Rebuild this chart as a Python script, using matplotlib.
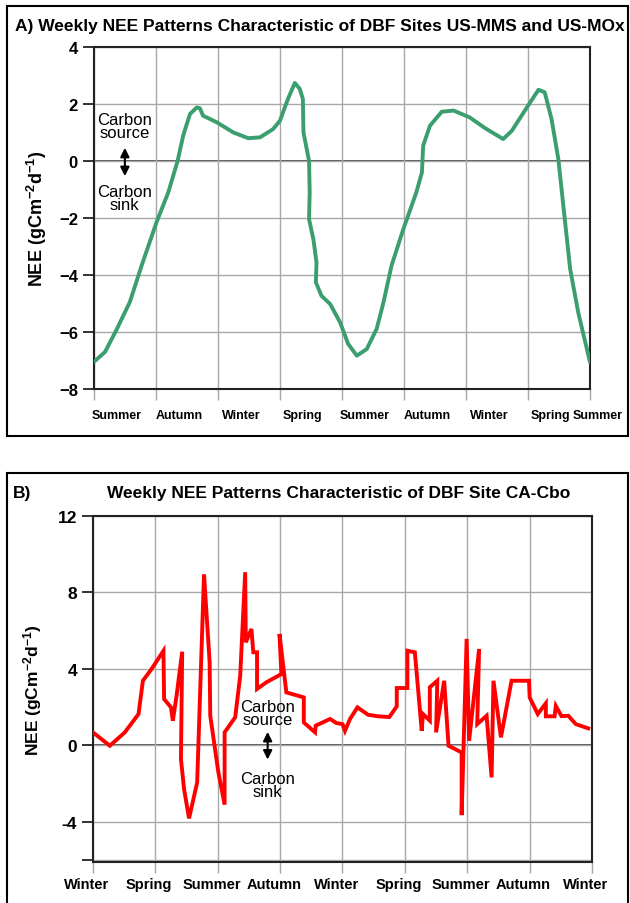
import numpy as np
import matplotlib.pyplot as plt
from matplotlib.patches import Rectangle

# panel A: US-MMS / US-MOx (x in seasons from first summer)
a_x = [0, 0.18, 0.37, 0.58, 0.77, 1.01, 1.2, 1.35, 1.44, 1.55, 1.66, 1.71, 1.76, 1.98,
       2.25, 2.49, 2.68, 2.89, 3.0, 3.13, 3.24, 3.32, 3.37, 3.38, 3.47, 3.48, 3.47, 3.54,
       3.59, 3.58, 3.67, 3.81, 3.97, 4.1, 4.24, 4.4, 4.56, 4.67, 4.8, 4.99, 5.2, 5.29,
       5.31, 5.42, 5.61, 5.8, 6.06, 6.31, 6.6, 6.74, 7.0, 7.17, 7.27, 7.38, 7.49, 7.57,
       7.68, 7.81, 8.0]
a_y = [-7.05, -6.7, -5.9, -4.95, -3.67, -2.15, -1.1, 0.0, 0.89, 1.65, 1.88, 1.85, 1.59, 1.36,
       1.0, 0.8, 0.83, 1.12, 1.41, 2.18, 2.74, 2.53, 2.18, 1.0, 0.0, -1.1, -2.04, -2.75,
       -3.56, -4.26, -4.73, -5.02, -5.66, -6.42, -6.83, -6.6, -5.89, -4.96, -3.67, -2.39, -1.1, -0.4,
       0.54, 1.24, 1.73, 1.77, 1.53, 1.15, 0.77, 1.06, 1.94, 2.5, 2.41, 1.47, 0.06, -1.57,
       -3.79, -5.31, -7.06]
a_seasons = ['Summer', 'Autumn', 'Winter', 'Spring', 'Summer', 'Autumn', 'Winter', 'Spring', 'Summer']

# panel B: CA-Cbo (x in seasons from first winter)
b_x = [0, 0.27, 0.51, 0.73, 0.8, 0.94, 1.13, 1.14, 1.25, 1.28, 1.34, 1.43, 1.41, 1.46, 1.54,
       1.67, 1.78, 1.87, 1.88, 2.01, 2.11, 2.11, 2.28, 2.36, 2.44, 2.45, 2.54, 2.57, 2.63,
       2.63, 2.78, 3.02, 2.99, 3.1, 3.38, 3.38, 3.56, 3.57, 3.8, 3.9, 4.0, 4.04, 4.12, 4.24,
       4.41, 4.57, 4.75, 4.87, 4.87, 5.04, 5.04, 5.16, 5.27, 5.29, 5.4, 5.4, 5.52, 5.5,
       5.63, 5.7, 5.91, 5.91, 5.99, 6.03, 6.19, 6.16, 6.31, 6.39, 6.42, 6.54, 6.71, 6.99,
       7.0, 7.13, 7.26, 7.26, 7.4, 7.42, 7.51, 7.62, 7.74, 7.94]
b_y = [0.68, -0.02, 0.68, 1.64, 3.38, 4.0, 4.95, 2.42, 1.99, 1.29, 2.6, 4.9, -0.72, -2.29, -3.82,
       -1.94, 8.95, 4.35, 1.55, -1.41, -3.1, 0.68, 1.47, 3.64, 9.06, 5.39, 6.09, 4.87, 4.87,
       2.95, 3.3, 3.73, 5.83, 2.77, 2.51, 1.2, 0.68, 1.03, 1.38, 1.17, 1.11, 0.76, 1.38, 1.99,
       1.6, 1.52, 1.48, 2.04, 3.0, 3.0, 4.95, 4.87, 0.76, 1.64, 1.29, 3.04, 3.38, 0.68,
       3.38, -0.02, -0.37, -3.65, 5.57, 0.24, 5.04, 1.11, 1.55, -1.68, 3.38, 0.42, 3.38, 3.38,
       2.51, 1.64, 2.2, 1.52, 1.52, 2.06, 1.53, 1.55, 1.11, 0.89]
b_seasons = ['Winter', 'Spring', 'Summer', 'Autumn', 'Winter', 'Spring', 'Summer', 'Autumn', 'Winter']

FAM = ['Liberation Sans', 'DejaVu Sans']
ylab = 'NEE (gCm$^{\\mathbf{-2}}$d$^{\\mathbf{-1}}$)'

plt.rcParams['mathtext.fontset'] = 'custom'
plt.rcParams['mathtext.bf'] = 'Liberation Sans:bold'
plt.rcParams['mathtext.rm'] = 'Liberation Sans'
plt.rcParams['mathtext.default'] = 'bf'
fig = plt.figure(figsize=(6.3, 9.04), dpi=100)

# panel frames
for y0, h in [(0.5166, 0.4757), (-0.01, 0.4857)]:
    fig.add_artist(Rectangle((0.0111, y0), 0.9857, h, transform=fig.transFigure,
                             fill=False, lw=1.5, ec='black'))


def style_axes(ax, size):
    for s in ax.spines.values():
        s.set_color('#222222')
        s.set_linewidth(1.5)
    ax.grid(True, color='#a8a8a8', lw=1)
    ax.axhline(0, color='#333333', lw=1.2, zorder=1)
    ax.tick_params(axis='x', length=8, color='#a8a8a8', width=1, labelbottom=False)
    ax.tick_params(axis='y', length=8, color='#222222', width=1.3, labelsize=size)
    for t in ax.get_yticklabels():
        t.set_fontfamily(FAM)
        t.set_fontweight('bold')


# ---- panel A ----
axA = fig.add_axes([0.149, 0.5686, 0.7875, 0.3783])
axA.plot(a_x, a_y, color='#3a9e6e', lw=2.8, solid_joinstyle='round', solid_capstyle='round', zorder=3)
axA.set_xlim(0, 8)
axA.set_ylim(-8, 4)
axA.set_xticks(range(9))
axA.set_yticks([-8, -6, -4, -2, 0, 2, 4])
style_axes(axA, 12)
for i, s in enumerate(a_seasons):
    axA.text(i + 0.37 if i < 8 else 8.13, -0.075, s, transform=axA.get_xaxis_transform(),
             ha='center', va='center', fontsize=9, fontweight='bold', family=FAM)
axA.set_ylabel(ylab, fontsize=13, fontweight='bold', family=FAM, labelpad=7)
axA.text(0.5, 1.23, 'Carbon\nsource', ha='center', va='center', fontsize=12, linespacing=0.85, family=FAM)
axA.text(0.5, -1.3, 'Carbon\nsink', ha='center', va='center', fontsize=12, linespacing=0.85, family=FAM)
axA.annotate('', xy=(0.5, -0.63), xytext=(0.5, 0.56),
             arrowprops=dict(arrowstyle='<|-|>', color='black', lw=1.5, mutation_scale=13))
fig.text(0.024, 0.9705, 'A) Weekly NEE Patterns Characteristic of DBF Sites US-MMS and US-MOx',
         ha='left', va='center', fontsize=12.5, fontweight='bold', family=FAM)

# ---- panel B ----
axB = fig.add_axes([0.1476, 0.0454, 0.7921, 0.3827])
axB.plot(b_x, b_y, color='#ff0000', lw=2.8, solid_joinstyle='miter', zorder=3)
axB.set_xlim(0, 8)
axB.set_ylim(-6.1, 12)
axB.set_xticks(range(9))
axB.set_yticks([-6, -4, 0, 4, 8, 12])
axB.set_yticklabels(['', '-4', '0', '4', '8', '12'])
style_axes(axB, 12.5)
for i, s in enumerate(b_seasons):
    axB.text(i - 0.1, -0.063, s, transform=axB.get_xaxis_transform(),
             ha='center', va='center', fontsize=10.5, fontweight='bold', family=FAM)
axB.set_ylabel(ylab, fontsize=12.5, fontweight='bold', family=FAM, labelpad=10)
axB.text(2.8, 1.69, 'Carbon\nsource', ha='center', va='center', fontsize=12, linespacing=0.85, family=FAM)
axB.text(2.8, -2.07, 'Carbon\nsink', ha='center', va='center', fontsize=12, linespacing=0.85, family=FAM)
axB.annotate('', xy=(2.8, -0.89), xytext=(2.8, 0.85),
             arrowprops=dict(arrowstyle='<|-|>', color='black', lw=1.5, mutation_scale=13))
fig.text(0.021, 0.4546, 'B)', ha='left', va='center', fontsize=12.5, fontweight='bold', family=FAM)
fig.text(0.538, 0.4546, 'Weekly NEE Patterns Characteristic of DBF Site CA-Cbo',
         ha='center', va='center', fontsize=12.5, fontweight='bold', family=FAM)

fig.savefig('out.png', dpi=100)
